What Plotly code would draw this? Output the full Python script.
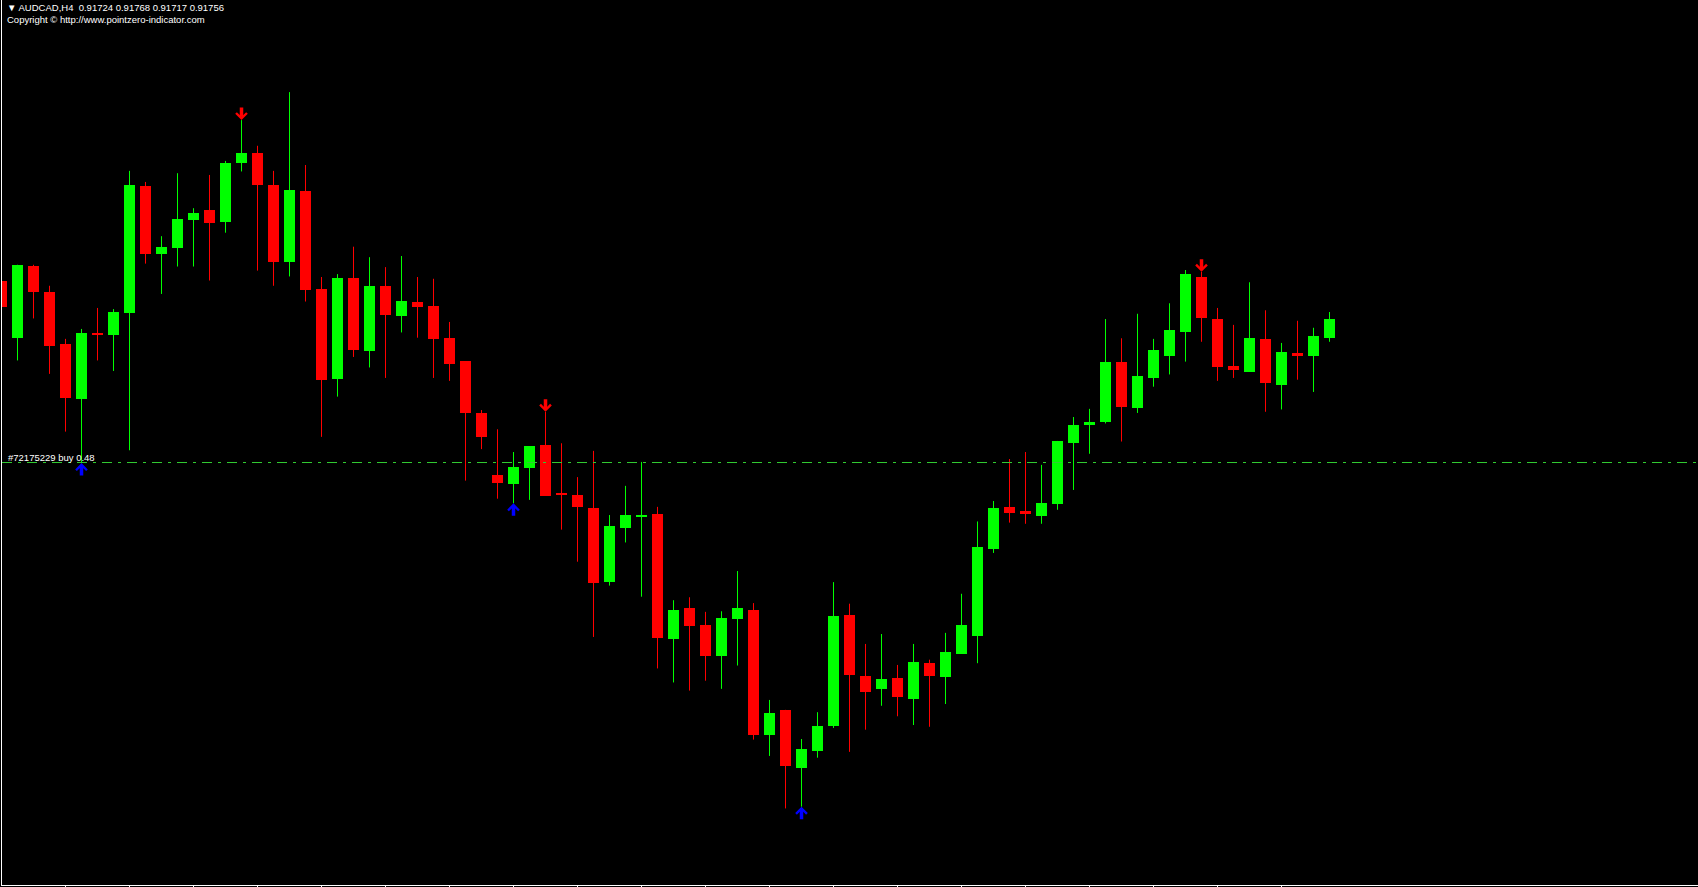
import plotly.graph_objects as go

symbol = "AUDCAD,H4"
copyright_text = "Copyright \u00a9 http://www.pointzero-indicator.com"
order_label = "#72175229 buy 0.48"
order_price = 0.91510

opens = [0.91821, 0.91724, 0.91847, 0.91802, 0.91713, 0.91619, 0.91732, 0.91729, 0.91767, 0.91984,
         0.91868, 0.91877, 0.91926, 0.91943, 0.91923, 0.92024, 0.92041, 0.91986, 0.91853, 0.91976,
         0.91807, 0.91654, 0.91826, 0.91702, 0.91813, 0.91762, 0.91785, 0.91778, 0.91724, 0.91684,
         0.91595, 0.91489, 0.91474, 0.91501, 0.91540, 0.91458, 0.91454, 0.91432, 0.91306, 0.91398,
         0.91417, 0.91422, 0.91208, 0.91261, 0.91231, 0.91179, 0.91242, 0.91257, 0.91043, 0.91086,
         0.90987, 0.91016, 0.91059, 0.91249, 0.91144, 0.91121, 0.91141, 0.91105, 0.91166, 0.91142,
         0.91182, 0.91213, 0.91362, 0.91434, 0.91427, 0.91419, 0.91439, 0.91544, 0.91575, 0.91580,
         0.91682, 0.91604, 0.91655, 0.91693, 0.91734, 0.91828, 0.91756, 0.91676, 0.91666, 0.91722,
         0.91643, 0.91698, 0.91693, 0.91724]
highs = [0.91863, 0.91849, 0.91849, 0.91813, 0.91722, 0.91739, 0.91775, 0.91773, 0.92010, 0.91991,
         0.91898, 0.92006, 0.91946, 0.92003, 0.92027, 0.92097, 0.92053, 0.92010, 0.92145, 0.92020,
         0.91828, 0.91833, 0.91880, 0.91862, 0.91845, 0.91864, 0.91828, 0.91825, 0.91751, 0.91684,
         0.91600, 0.91567, 0.91528, 0.91538, 0.91597, 0.91543, 0.91485, 0.91530, 0.91420, 0.91470,
         0.91511, 0.91434, 0.91274, 0.91279, 0.91254, 0.91255, 0.91324, 0.91269, 0.91103, 0.91086,
         0.91036, 0.91082, 0.91305, 0.91268, 0.91199, 0.91216, 0.91163, 0.91199, 0.91172, 0.91218,
         0.91285, 0.91409, 0.91444, 0.91516, 0.91528, 0.91506, 0.91547, 0.91588, 0.91602, 0.91756,
         0.91723, 0.91765, 0.91722, 0.91783, 0.91840, 0.91837, 0.91775, 0.91746, 0.91819, 0.91771,
         0.91715, 0.91753, 0.91741, 0.91768]
lows = [0.91755, 0.91685, 0.91757, 0.91662, 0.91563, 0.91509, 0.91685, 0.91667, 0.91531, 0.91851,
        0.91799, 0.91846, 0.91846, 0.91822, 0.91904, 0.92009, 0.91839, 0.91813, 0.91829, 0.91786,
        0.91554, 0.91623, 0.91691, 0.91673, 0.91655, 0.91733, 0.91724, 0.91655, 0.91650, 0.91479,
        0.91533, 0.91448, 0.91440, 0.91446, 0.91453, 0.91395, 0.91340, 0.91211, 0.91299, 0.91373,
        0.91280, 0.91157, 0.91133, 0.91119, 0.91136, 0.91122, 0.91162, 0.91035, 0.91007, 0.90917,
        0.90920, 0.91004, 0.91055, 0.91014, 0.91052, 0.91093, 0.91075, 0.91060, 0.91057, 0.91096,
        0.91182, 0.91166, 0.91355, 0.91407, 0.91405, 0.91405, 0.91429, 0.91463, 0.91525, 0.91577,
        0.91546, 0.91595, 0.91640, 0.91661, 0.91683, 0.91717, 0.91650, 0.91655, 0.91666, 0.91597,
        0.91601, 0.91652, 0.91631, 0.91717]
closes = [0.91777, 0.91849, 0.91803, 0.91710, 0.91621, 0.91732, 0.91729, 0.91768, 0.91986, 0.91868,
          0.91880, 0.91927, 0.91938, 0.91921, 0.92023, 0.92041, 0.91986, 0.91853, 0.91977, 0.91805,
          0.91652, 0.91826, 0.91703, 0.91813, 0.91763, 0.91787, 0.91777, 0.91722, 0.91679, 0.91595,
          0.91554, 0.91475, 0.91502, 0.91538, 0.91453, 0.91454, 0.91434, 0.91304, 0.91401, 0.91420,
          0.91420, 0.91210, 0.91257, 0.91230, 0.91179, 0.91243, 0.91261, 0.91043, 0.91081, 0.90989,
          0.91019, 0.91058, 0.91247, 0.91145, 0.91117, 0.91139, 0.91108, 0.91168, 0.91144, 0.91185,
          0.91231, 0.91365, 0.91432, 0.91424, 0.91422, 0.91441, 0.91547, 0.91574, 0.91579, 0.91682,
          0.91606, 0.91658, 0.91703, 0.91737, 0.91833, 0.91757, 0.91673, 0.91669, 0.91723, 0.91647,
          0.91699, 0.91693, 0.91727, 0.91756]

sell_signals = [15, 34, 75]   # bar indices with red down arrows (at the high)
buy_signals = [5, 32, 50]     # bar indices with blue up arrows (at the low)

UP = "#00FF00"
DOWN = "#FF0000"

n = len(opens)
xs = list(range(n))
is_up = [c >= o for o, c in zip(opens, closes)]

fig = go.Figure()

# wicks
for flag, col in ((True, UP), (False, DOWN)):
    wx, wy = [], []
    for i in xs:
        if is_up[i] == flag:
            wx += [i, i, None]
            wy += [lows[i], highs[i], None]
    fig.add_trace(go.Scatter(x=wx, y=wy, mode="lines", line=dict(color=col, width=1),
                             hoverinfo="skip", showlegend=False))

# bodies
fig.add_trace(go.Bar(
    x=xs,
    base=[min(o, c) for o, c in zip(opens, closes)],
    y=[max(abs(c - o), 0.00002) for o, c in zip(opens, closes)],
    width=11 / 16,
    marker=dict(color=[UP if u else DOWN for u in is_up], line=dict(width=0)),
    hoverinfo="skip", showlegend=False))

# order line
fig.add_hline(y=order_price, line=dict(color="#32CD32", width=1, dash="10px,6px,3px,6px"))

annotations = []
for i in sell_signals:
    annotations.append(dict(x=i, y=highs[i], xref="x", yref="y", text="", showarrow=True,
                            ax=0, ay=-14, arrowhead=4, arrowsize=0.6, arrowwidth=3.5,
                            arrowcolor="#FF0000"))
for i in buy_signals:
    annotations.append(dict(x=i, y=lows[i], xref="x", yref="y", text="", showarrow=True,
                            ax=0, ay=14, arrowhead=4, arrowsize=0.6, arrowwidth=3.5,
                            arrowcolor="#0000FF"))

font = dict(family="Liberation Sans, Arial, sans-serif", size=9.5, color="#FFFFFF")
header = "\u25bc " + symbol + "&nbsp;&nbsp;" + " ".join(f"{v:.5f}" for v in (opens[-1], highs[-1], lows[-1], closes[-1]))
annotations.append(dict(x=3 / 1696, y=1 - 7.5 / 885, xref="paper", yref="paper", text=header,
                        showarrow=False, xanchor="left", yanchor="middle", font=font))
annotations.append(dict(x=3 / 1696, y=1 - 19.5 / 885, xref="paper", yref="paper", text=copyright_text,
                        showarrow=False, xanchor="left", yanchor="middle", font=font))
annotations.append(dict(x=4 / 1696, y=order_price, xref="paper", yref="y", text=order_label,
                        showarrow=False, xanchor="left", yanchor="bottom", yshift=-2, font=font))

# pixel geometry: 16 px per bar, plot area 1696 x 885
px_per_bar = 16
x0 = 0.5 / px_per_bar
x1 = x0 + 1696 / px_per_bar
y_top = 0.923029
y_bot = y_top - 885 / 58333

fig.update_layout(
    width=1698, height=887,
    margin=dict(l=2, r=0, t=0, b=2, pad=0),
    paper_bgcolor="#000000", plot_bgcolor="#000000",
    barmode="overlay", bargap=0,
    showlegend=False,
    annotations=annotations,
    xaxis=dict(range=[x0, x1], showgrid=False, zeroline=False, showline=True,
               linecolor="#FFFFFF", linewidth=1, ticks="outside", ticklen=2,
               tickcolor="#FFFFFF", tickwidth=1, tickvals=list(range(0, n, 4)),
               showticklabels=False, fixedrange=True),
    yaxis=dict(range=[y_bot, y_top], showgrid=False, zeroline=False, showline=True,
               linecolor="#FFFFFF", linewidth=1, ticks="", showticklabels=False,
               fixedrange=True),
)

fig.write_html("out.html", config={"displayModeBar": False},
               post_script="document.body.style.margin='0';document.body.style.background='#000';"
                           "document.body.style.overflow='hidden';")
